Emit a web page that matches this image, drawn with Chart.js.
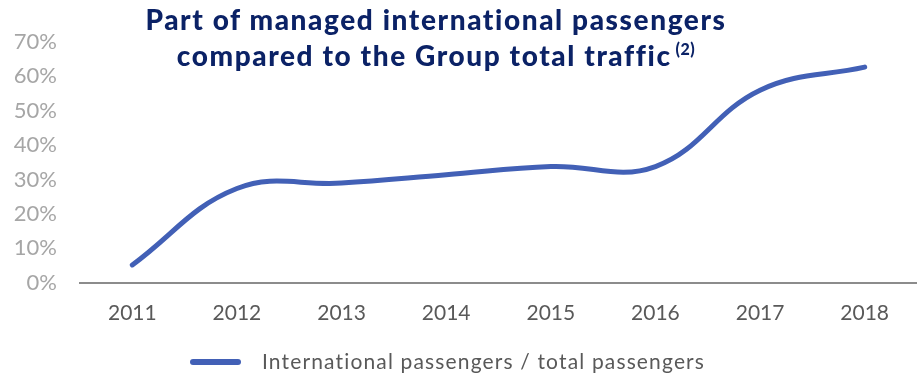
<!DOCTYPE html>
<html>
<head>
<meta charset="utf-8">
<script src="https://cdn.jsdelivr.net/npm/chart.js@4"></script>
<style>
  html, body { margin: 0; padding: 0; background: #fff; }
  #wrap { position: relative; width: 917px; height: 376px; overflow: hidden; }
  #c { position: absolute; left: 0; top: 0; }
  #title { position: absolute; left: 0; top: 0; width: 872px; text-align: center;
    font-family: Lato, sans-serif; font-weight: 900; font-size: 28px; line-height: 36px; letter-spacing: 1.6px;
    color: #0b2266; padding-top: 1px; }
  #title sup { font-size: 16px; letter-spacing: 0.5px; vertical-align: 0; position: relative; top: -11px; margin-left: 4px; }
  #legend { position: absolute; left: 0; top: 348px; width: 917px; height: 26px; }
  #legend .sw { position: absolute; left: 190px; top: 11px; width: 51px; height: 6px; border-radius: 3px; background: #4260b6; }
  #legend .tx { position: absolute; left: 262px; top: 0; font-family: Lato, sans-serif; font-size: 21px; letter-spacing: 1.15px; line-height: 26px; color: #595959; white-space: nowrap; }
</style>
</head>
<body>
<div id="wrap">
  <canvas id="c" width="917" height="376"></canvas>
  <div id="title">Part of managed international passengers<br>compared to the Group total traffic<sup>(2)</sup></div>
  <div id="legend"><div class="sw"></div><div class="tx" id="legtext"></div></div>
</div>
<script>
const categories = ['2011', '2012', '2013', '2014', '2015', '2016', '2017', '2018'];
const seriesName = 'International passengers / total passengers';
const shareValues = [5.2, 27.4, 29.0, 31.4, 33.8, 33.8, 56.0, 62.7];
const yTicks = [0, 10, 20, 30, 40, 50, 60, 70];

document.getElementById('legtext').textContent = seriesName;

new Chart(document.getElementById('c'), {
  type: 'line',
  data: {
    labels: categories,
    datasets: [{
      label: seriesName,
      data: shareValues,
      borderColor: '#4260b6',
      backgroundColor: '#4260b6',
      borderWidth: 5,
      borderCapStyle: 'round',
      borderJoinStyle: 'round',
      tension: 0.4,
      pointRadius: 0,
      pointHoverRadius: 0,
      fill: false
    }]
  },
  options: {
    responsive: false,
    animation: false,
    events: [],
    layout: { padding: { top: 42, right: 0, bottom: 32, left: 0 } },
    plugins: { legend: { display: false }, title: { display: false }, tooltip: { enabled: false } },
    scales: {
      x: {
        offset: true,
        grid: { display: false, drawTicks: false },
        border: { display: true, color: '#8c8c8c', width: 2 },
        ticks: { color: '#595959', font: { family: 'Lato', size: 21 }, padding: 18, maxRotation: 0 }
      },
      y: {
        min: 0, max: 70,
        afterBuildTicks: (s) => { s.ticks = yTicks.map(v => ({ value: v })); },
        afterFit: (s) => { s.width = 80; },
        grid: { display: false, drawTicks: false },
        border: { display: false },
        ticks: { color: '#a6a6a6', font: { family: 'Lato', size: 22 }, padding: 23,
          callback: (v) => v + '%' }
      }
    }
  }
});
</script>
</body>
</html>
